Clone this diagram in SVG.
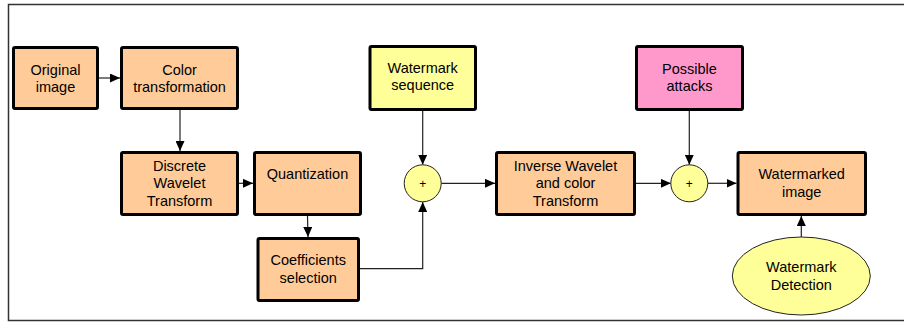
<svg xmlns="http://www.w3.org/2000/svg" width="904" height="322" viewBox="0 0 904 322">
<style>
.box{stroke:#000;stroke-width:3}
.o{fill:#FFCC99}
.y{fill:#FFFF99}
.p{fill:#FF99CC}
.thin{stroke:#222;stroke-width:1}
text{font-family:"Liberation Sans",Arial,sans-serif;font-size:14.5px;fill:#000;text-anchor:middle}
.c{fill:none;stroke:#222;stroke-width:1.2}
</style>
<defs>
<marker id="ah" markerUnits="userSpaceOnUse" markerWidth="11" markerHeight="9" refX="10" refY="4.5" orient="auto">
<path d="M0,0 L10,4.5 L0,9 z" fill="#000"/>
</marker>
</defs>
<rect x="8.5" y="4.5" width="900" height="316" fill="#fff" stroke="#333" stroke-width="1.5"/>
<g id="connectors" class="c">
<path d="M98,78 H120" marker-end="url(#ah)"/>
<path d="M180,110 V151" marker-end="url(#ah)"/>
<path d="M239,183.3 H253" marker-end="url(#ah)"/>
<path d="M307.5,216 L308,237" marker-end="url(#ah)"/>
<path d="M360,268.7 H422.7 V202" marker-end="url(#ah)"/>
<path d="M422.7,111 V164.8" marker-end="url(#ah)"/>
<path d="M441.2,183.3 H495" marker-end="url(#ah)"/>
<path d="M636,183.3 H670.8" marker-end="url(#ah)"/>
<path d="M689.3,111 V164.8" marker-end="url(#ah)"/>
<path d="M707.8,183.3 H736.5" marker-end="url(#ah)"/>
<path d="M801.3,237 V216" marker-end="url(#ah)"/>
</g>
<g id="original">
<rect class="box o" x="13.5" y="47.5" width="84" height="61" rx="1.5"/>
<text x="55.5" y="74.5">Original</text><text x="55.5" y="92">image</text>
</g>
<g id="color">
<rect class="box o" x="121.5" y="47.5" width="116" height="61" rx="1.5"/>
<text x="179.5" y="74.5">Color</text><text x="179.5" y="92">transformation</text>
</g>
<g id="dwt">
<rect class="box o" x="121.5" y="152.5" width="116" height="62" rx="1.5"/>
<text x="179.5" y="170.5">Discrete</text><text x="179.5" y="188">Wavelet</text><text x="179.5" y="205.5">Transform</text>
</g>
<g id="quant">
<rect class="box o" x="254.5" y="152.5" width="106" height="62" rx="1.5"/>
<text x="307.5" y="179">Quantization</text>
</g>
<g id="coef">
<rect class="box o" x="258" y="238.5" width="100.5" height="62" rx="1.5"/>
<text x="308.2" y="265">Coefficients</text><text x="308.2" y="282.5">selection</text>
</g>
<g id="wmseq">
<rect class="box y" x="370" y="46.5" width="105.5" height="63" rx="1.5"/>
<text x="422.7" y="72.5">Watermark</text><text x="422.7" y="90">sequence</text>
</g>
<g id="plus1">
<circle cx="422.7" cy="183.3" r="18.5" fill="#FFFF99" stroke="#222" stroke-width="1"/>
<text x="422.7" y="187.5" style="font-size:12px">+</text>
</g>
<g id="inverse">
<rect class="box o" x="496.5" y="152.5" width="138" height="62" rx="1.5"/>
<text x="565.5" y="170.5">Inverse Wavelet</text><text x="565.5" y="188">and color</text><text x="565.5" y="205.5">Transform</text>
</g>
<g id="attacks">
<rect class="box p" x="636.5" y="46.5" width="106" height="63" rx="1.5"/>
<text x="689.5" y="73.5">Possible</text><text x="689.5" y="91">attacks</text>
</g>
<g id="plus2">
<circle cx="689.3" cy="183.3" r="18.5" fill="#FFFF99" stroke="#222" stroke-width="1"/>
<text x="689.3" y="187.5" style="font-size:12px">+</text>
</g>
<g id="watermarked">
<rect class="box o" x="738" y="152.5" width="127.5" height="62" rx="1.5"/>
<text x="801.7" y="179">Watermarked</text><text x="801.7" y="196.5">image</text>
</g>
<g id="detection">
<ellipse cx="801.3" cy="276" rx="69" ry="39" fill="#FFFF99" stroke="#222" stroke-width="1"/>
<text x="801.3" y="272">Watermark</text><text x="801.3" y="289.5">Detection</text>
</g>
</svg>
